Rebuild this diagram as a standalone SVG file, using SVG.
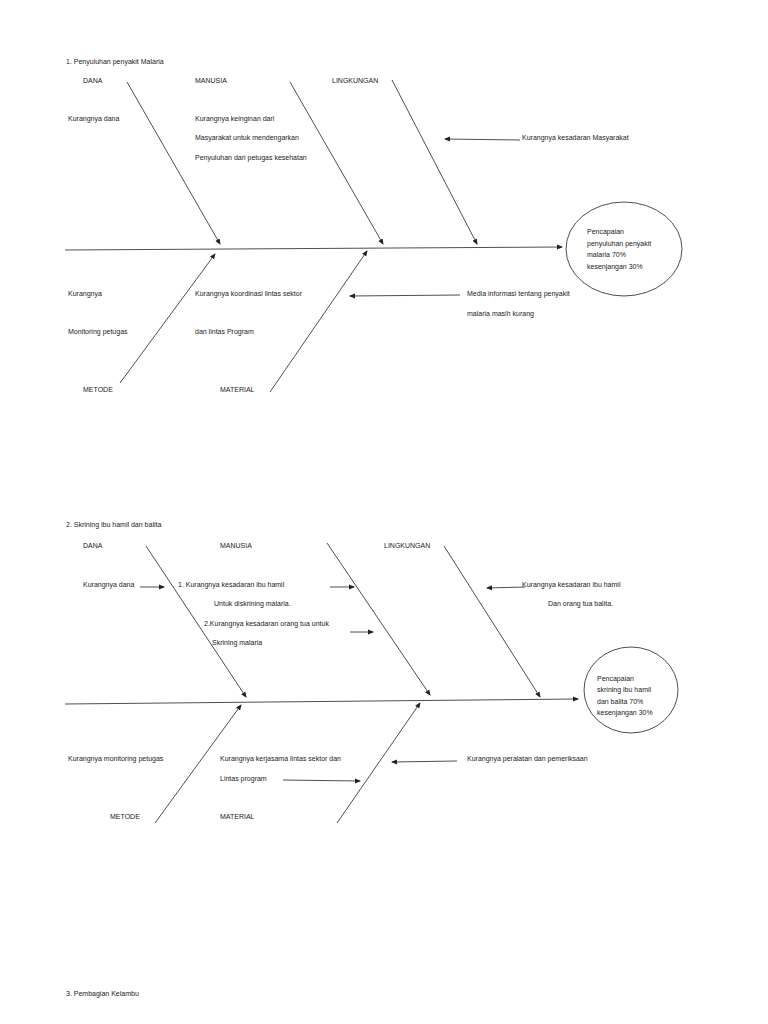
<svg xmlns="http://www.w3.org/2000/svg" width="768" height="1024" viewBox="0 0 768 1024">
<style>
text{font-family:"Liberation Sans",Arial,sans-serif;font-size:7px;fill:#222}
.l{stroke:#222;stroke-width:0.8;fill:none}
.a{stroke:#222;stroke-width:0.8;fill:none;marker-end:url(#ah)}
</style>
<defs><marker id="ah" markerWidth="6" markerHeight="6" refX="5" refY="3" orient="auto" markerUnits="userSpaceOnUse"><path d="M0,0.5L6,3L0,5.5z" fill="#222"/></marker></defs>
<rect width="768" height="1024" fill="#fff"/>
<g id="connectors">
<line class="a" x1="65" y1="250" x2="562" y2="247"/>
<line class="a" x1="127" y1="82" x2="220" y2="244"/>
<line class="a" x1="290" y1="82" x2="383" y2="244"/>
<line class="a" x1="392" y1="80" x2="477" y2="244"/>
<line class="a" x1="120" y1="383" x2="215" y2="254"/>
<line class="a" x1="270" y1="392" x2="367" y2="251"/>
<line class="a" x1="520" y1="140" x2="445" y2="139"/>
<line class="a" x1="460" y1="295" x2="350" y2="296"/>
<line class="a" x1="65" y1="704" x2="578" y2="699"/>
<line class="a" x1="146" y1="546" x2="246" y2="697"/>
<line class="a" x1="327" y1="543" x2="430" y2="695"/>
<line class="a" x1="444" y1="546" x2="540" y2="697"/>
<line class="a" x1="155" y1="823" x2="241" y2="705"/>
<line class="a" x1="337" y1="823" x2="420" y2="703"/>
<line class="a" x1="140" y1="587" x2="164" y2="587"/>
<line class="a" x1="330" y1="587" x2="354" y2="587"/>
<line class="a" x1="350" y1="632" x2="373" y2="632"/>
<line class="a" x1="525" y1="587" x2="487" y2="588"/>
<line class="a" x1="457" y1="761" x2="392" y2="762"/>
<line class="a" x1="283" y1="780" x2="360" y2="781"/>
</g>
<g id="d1">
<text x="66" y="64">1.   Penyuluhan penyakit Malaria</text>
<text x="83" y="83">DANA</text>
<text x="195" y="83">MANUSIA</text>
<text x="332" y="83">LINGKUNGAN</text>
<text x="68" y="121">Kurangnya dana</text>
<text x="195" y="121">Kurangnya keinginan dari</text>
<text x="195" y="140">Masyarakat untuk mendengarkan</text>
<text x="195" y="160">Penyuluhan dari petugas kesehatan</text>
<text x="522" y="140">Kurangnya kesadaran Masyarakat</text>
<text x="68" y="296">Kurangnya</text>
<text x="195" y="296">Kurangnya koordinasi lintas sektor</text>
<text x="68" y="334">Monitoring petugas</text>
<text x="195" y="334">dan lintas Program</text>
<text x="467" y="296">Media informasi tentang penyakit</text>
<text x="467" y="316">malaria masih kurang</text>
<text x="83" y="392">METODE</text>
<text x="220" y="392">MATERIAL</text>
</g>
<g id="goal1"><ellipse class="l" cx="624" cy="249" rx="58" ry="47"/>
<text x="587" y="234">Pencapaian</text><text x="587" y="246">penyuluhan penyakit</text><text x="587" y="257">malaria 70%</text><text x="587" y="269">kesenjangan 30%</text></g>
<g id="d2">
<text x="66" y="527">2.   Skrining ibu hamil dan balita</text>
<text x="83" y="548">DANA</text>
<text x="220" y="548">MANUSIA</text>
<text x="384" y="548">LINGKUNGAN</text>
<text x="83" y="587">Kurangnya dana</text>
<text x="178" y="587">1. Kurangnya kesadaran ibu hamil</text>
<text x="214" y="606">Untuk diskrining malaria.</text>
<text x="204" y="626">2.Kurangnya kesadaran orang tua untuk</text>
<text x="212" y="645">Skrining malaria</text>
<text x="522" y="587">Kurangnya kesadaran ibu hamil</text>
<text x="548" y="606">Dan orang tua balita.</text>
<text x="68" y="761">Kurangnya monitoring petugas</text>
<text x="220" y="761">Kurangnya kerjasama lintas sektor dan</text>
<text x="220" y="781">Lintas program</text>
<text x="467" y="761">Kurangnya peralatan dan pemeriksaan</text>
<text x="110" y="819">METODE</text>
<text x="220" y="819">MATERIAL</text>
</g>
<g id="goal2"><ellipse class="l" cx="631" cy="690" rx="47" ry="43"/>
<text x="597" y="681">Pencapaian</text><text x="597" y="692">skrining ibu hamil</text><text x="597" y="704">dan balita 70%</text><text x="597" y="715">kesenjangan 30%</text></g>
<text x="66" y="996">3.   Pembagian Kelambu</text>
</svg>
